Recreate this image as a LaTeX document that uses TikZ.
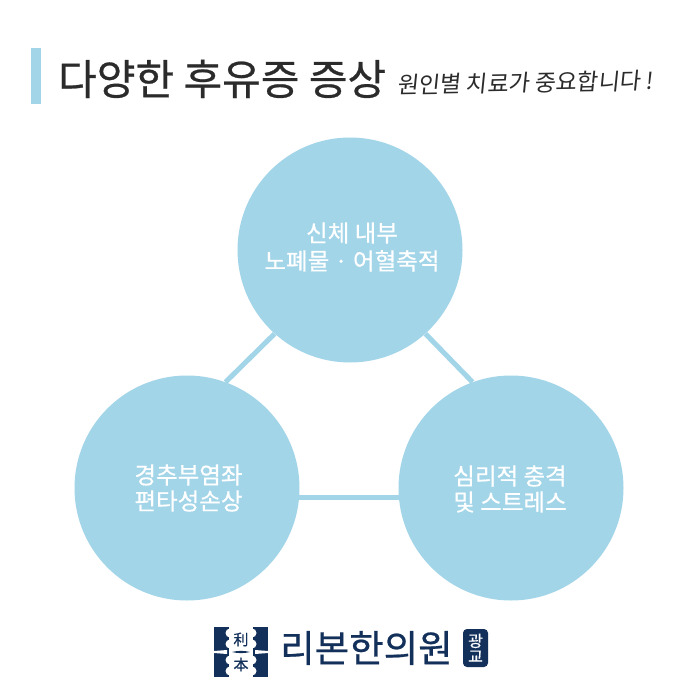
\documentclass[tikz,border=0pt]{standalone}
\usepackage{fontspec}
\setmainfont{Noto Sans CJK KR}
\newfontfamily\medfont[FakeBold=0.6]{Noto Sans CJK KR}
\newfontfamily\handfont[FakeSlant=0.12]{Noto Sans CJK KR}
\usepackage{tikz}
\usetikzlibrary{positioning}
\definecolor{skyc}{HTML}{A3D5E9}
\definecolor{navyc}{HTML}{12305A}
\definecolor{inkc}{HTML}{2B2B2B}
\tikzset{
	bubble/.style={circle, fill=skyc, minimum size=225pt, inner sep=0pt},
	bubbletext/.style={inner sep=0pt, text=white, align=center, font=\medfont\fontsize{23.5}{26}\selectfont},
	link/.style={draw=skyc, line width=5pt},
	seallabel/.style={inner sep=0pt, text=navyc, font=\medfont\fontsize{15}{15}\selectfont}
}
\begin{document}
\begin{tikzpicture}[x=1pt, y=-1pt]
	\useasboundingbox (0,0) rectangle (700,700);
	\fill[white] (0,0) rectangle (700,700);
	
	% 제목
	\fill[skyc] (31,48) rectangle (41,104);
	\node[anchor=west, inner sep=0pt, text=inkc, font=\medfont\fontsize{42}{42}\selectfont] (title) at (58,79) {다양한 후유증 증상};
	\node[anchor=west, inner sep=0pt, text=inkc, rotate=1, font=\handfont\fontsize{23}{24}\selectfont] (subtitle) at (397,85) {원인별 치료가 중요합니다 !};
	
	% 원 세 개
	\node[bubble] (body) at (350,250) {};
	\node[bubble] (neck) at (187,488) {};
	\node[bubble] (mind) at (511,488) {};
	\node[bubbletext, font=\medfont\fontsize{23.5}{28}\selectfont] (bodytext) at (352,247) {신체 내부\\노폐물 · 어혈축적};
	\node[bubbletext] (necktext) at (188.5,488) {경추부염좌\\편타성손상};
	\node[bubbletext] (mindtext) at (510,489) {심리적 충격\\및 스트레스};
	
	% 연결선
	\draw[link] (body.228) -- (neck.70);
	\draw[link] (body.312) -- (mind.110);
	\draw[link] (neck.355) -- (mind.185);
	
	% 로고
	\begin{scope}[shift={(241,652)}]
		\fill[navyc] (-27,-25) rectangle (27,25);
		\fill[white] (-12,-25) rectangle (12,25);
		\foreach \yy in {-19,-8,8,19}{
			\fill[white] (-11,\yy) circle (4.5);
			\fill[white] (11,\yy) circle (4.5);
		}
		\fill[white] (-27,-1) -- (-14,-2) -- (-14,2) -- (-27,1) -- cycle;
		\fill[white] (27,-1) -- (14,-2) -- (14,2) -- (27,1) -- cycle;
		\fill[navyc] (-9,0) .. controls (-3,-1.5) and (3,-1.5) .. (9,0) .. controls (3,1.5) and (-3,1.5) .. (-9,0) -- cycle;
		\node[seallabel] (sealtop) at (0,-12.5) {利};
		\node[seallabel] (sealbottom) at (0,12.5) {本};
	\end{scope}
	\node[anchor=west, inner sep=0pt, text=navyc, font=\medfont\fontsize{37.5}{38}\selectfont] (clinic) at (280,648) {리본한의원};
	\node[fill=navyc, rounded corners=4pt, minimum width=25pt, minimum height=38pt, inner sep=0pt, text=white, align=center,
		font=\medfont\fontsize{16}{15.5}\selectfont] (branch) at (475.5,648) {광\\교};
\end{tikzpicture}
\end{document}
